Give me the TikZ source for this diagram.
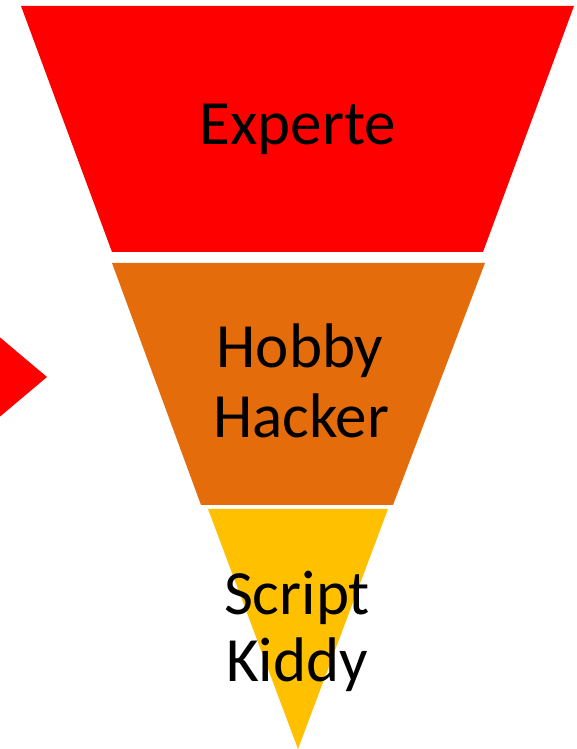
\documentclass[tikz,border=0pt]{standalone}
\usepackage{fontspec}
\setmainfont{Carlito}
\definecolor{fred}{HTML}{FF0000}
\definecolor{forange}{HTML}{E46C0A}
\definecolor{fyellow}{HTML}{FFC000}
\begin{document}
\begin{tikzpicture}[x=1pt,y=1pt,
  lbl/.style={anchor=base,inner sep=0pt,font=\fontsize{63}{72}\selectfont,text=black}]
\useasboundingbox (0,0) rectangle (576,749);
\clip (0,0) rectangle (576,749);
% level shapes (image y measured from top; tikz y = 749 - y)
\fill[fred] (21,743) -- (574,743) -- (483,497) -- (112,497) -- cycle;
\fill[forange] (112,486) -- (485,486) -- (393,244) -- (201,244) -- cycle;
\fill[fyellow] (208,240) -- (388,240) -- (298,0) -- cycle;
% left arrow triangle
\fill[fred] (-10,420) -- (47,372) -- (-10,324) -- cycle;
% labels
\node[lbl] (experte) at (298,604) {Experte};
\node[lbl] (hobby) at (300,381) {Hobby};
\node[lbl] (hacker) at (301,311) {Hacker};
\node[lbl] (script) at (297,134) {Script};
\node[lbl] (kiddy) at (297,67) {Kiddy};
\end{tikzpicture}
\end{document}
